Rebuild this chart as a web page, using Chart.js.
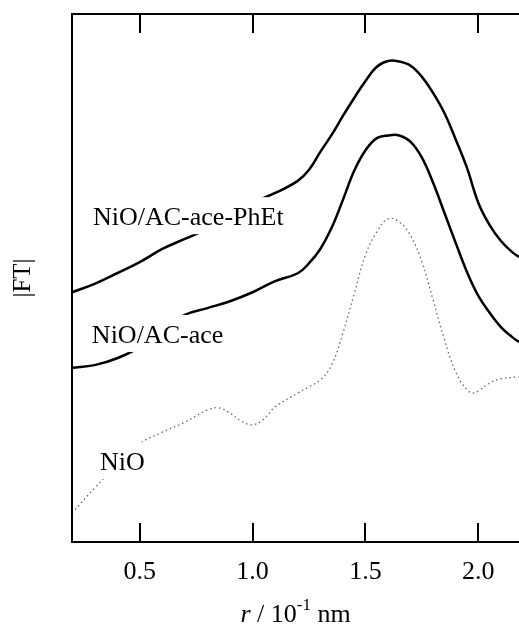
<!DOCTYPE html>
<html>
<head>
<meta charset="utf-8">
<script src="https://cdn.jsdelivr.net/npm/chart.js@4/dist/chart.umd.min.js"></script>
<style>
  html, body { margin: 0; padding: 0; background: #fff; }
  canvas { display: block; }
</style>
</head>
<body>
<canvas id="ftChart" width="519" height="629"></canvas>
<script>
// |FT| of the EXAFS spectra, r in 0.1 nm, magnitude in arbitrary units (offset curves)
const rGrid = [0.2, 0.3, 0.4, 0.5, 0.6, 0.7, 0.8, 0.9, 1.0, 1.1, 1.2,
  1.25, 1.3, 1.35, 1.4, 1.45, 1.5, 1.55, 1.6, 1.65, 1.7, 1.75, 1.8, 1.85,
  1.9, 1.95, 2.0, 2.05, 2.1, 2.15, 2.18];
const ftPhEt = [47.3, 48.9, 50.9, 53.0, 55.5, 57.4, 59.3, 61.7, 64.2, 66.1, 68.4,
  70.5, 73.9, 77.1, 80.7, 84.1, 87.3, 90.0, 91.1, 91.0, 90.2, 88.1, 85.0, 81.2,
  76.2, 70.8, 64.2, 60.0, 57.0, 54.9, 54.0];
const ftAce = [33.0, 33.5, 34.8, 36.9, 40.2, 43.0, 44.3, 45.6, 47.3, 49.4, 50.9,
  52.8, 55.5, 59.5, 64.8, 70.3, 74.2, 76.5, 77.0, 77.0, 75.8, 72.8, 68.0, 62.3,
  56.6, 51.1, 46.6, 43.4, 40.7, 38.8, 37.9];

const rNiO = [0.2, 0.3, 0.4, 0.5, 0.6, 0.7, 0.8, 0.85, 0.9, 0.95, 1.0, 1.05, 1.1,
  1.2, 1.25, 1.3, 1.35, 1.4, 1.45, 1.5, 1.55, 1.6, 1.65, 1.7, 1.75, 1.8, 1.85,
  1.9, 1.95, 1.98, 2.0, 2.05, 2.1, 2.18];
const ftNiO = [5.5, 10.2, 14.6, 18.6, 20.8, 22.7, 25.0, 25.4, 24.4, 22.9, 22.2, 23.3, 25.6,
  28.2, 29.4, 30.7, 33.5, 39.6, 47.0, 54.4, 58.7, 61.2, 60.6, 58.0, 53.0, 45.8, 38.3,
  32.2, 28.8, 28.2, 28.6, 30.1, 30.9, 31.3];

const rTicks = [0.5, 1.0, 1.5, 2.0];

// curve labels: [text, r, |FT|] of the text's left baseline
const curveLabels = [
  ["NiO/AC-ace-PhEt", 0.293, 60.0],
  ["NiO/AC-ace", 0.288, 37.7],
  ["NiO", 0.324, 13.6],
];

const serif = '"Liberation Serif", "Times New Roman", serif';

function pts(xs, ys) {
  return xs.map((v, i) => ({ x: v, y: ys[i] }));
}

// white-backed labels, frame with inward ticks, axis titles
const framePlugin = {
  id: "frame",
  afterDatasetsDraw(chart) {
    const { ctx, scales: { x, y } } = chart;
    ctx.save();
    ctx.font = "26px " + serif;
    ctx.textBaseline = "alphabetic";
    curveLabels.forEach(([txt, r, v]) => {
      const px = x.getPixelForValue(r);
      const py = y.getPixelForValue(v);
      const w = ctx.measureText(txt).width;
      ctx.fillStyle = "#fff";
      ctx.fillRect(px - 4, py - 28, w + 8, 37);
      ctx.fillStyle = "#000";
      ctx.fillText(txt, px, py);
    });
    ctx.restore();
  },
  afterDraw(chart) {
    const { ctx, chartArea: a, scales: { x } } = chart;
    ctx.save();
    ctx.strokeStyle = "#000";
    ctx.lineWidth = 2;
    ctx.beginPath();
    ctx.moveTo(a.right + 2, a.top);
    ctx.lineTo(a.left, a.top);
    ctx.lineTo(a.left, a.bottom);
    ctx.lineTo(a.right + 2, a.bottom);
    rTicks.forEach(v => {
      const px = Math.round(x.getPixelForValue(v));
      ctx.moveTo(px, a.top);
      ctx.lineTo(px, a.top + 19);
      ctx.moveTo(px, a.bottom);
      ctx.lineTo(px, a.bottom - 19);
    });
    ctx.stroke();

    // x title: r / 10^-1 nm
    ctx.fillStyle = "#000";
    ctx.textBaseline = "alphabetic";
    const parts = [
      ["italic 26px " + serif, "r", 0],
      ["26px " + serif, " / 10", 0],
      ["17px " + serif, "-1", -12],
      ["26px " + serif, " nm", 0],
    ];
    let total = 0;
    parts.forEach(p => { ctx.font = p[0]; total += ctx.measureText(p[1]).width; });
    let cx = (a.left + a.right) / 2 - total / 2;
    parts.forEach(p => {
      ctx.font = p[0];
      ctx.fillText(p[1], cx, 622 + p[2]);
      cx += ctx.measureText(p[1]).width;
    });

    // y title
    ctx.font = "25px " + serif;
    ctx.textAlign = "center";
    ctx.textBaseline = "middle";
    ctx.translate(23, (a.top + a.bottom) / 2);
    ctx.rotate(-Math.PI / 2);
    ctx.fillText("|FT|", 0, 0);
    ctx.restore();
  },
};

new Chart(document.getElementById("ftChart"), {
  type: "line",
  data: {
    datasets: [
      {
        label: "NiO/AC-ace-PhEt",
        data: pts(rGrid, ftPhEt),
        borderColor: "#000",
        borderWidth: 2.5,
      },
      {
        label: "NiO/AC-ace",
        data: pts(rGrid, ftAce),
        borderColor: "#000",
        borderWidth: 2.5,
      },
      {
        label: "NiO",
        data: pts(rNiO, ftNiO),
        borderColor: "#666",
        borderWidth: 1.3,
        borderDash: [1.5, 3],
      },
    ],
  },
  options: {
    responsive: false,
    animation: false,
    devicePixelRatio: 1,
    layout: { padding: { left: 72, top: 14, right: 0, bottom: 0 } },
    elements: {
      point: { radius: 0 },
      line: { tension: 0.4, fill: false },
    },
    plugins: {
      legend: { display: false },
      tooltip: { enabled: false },
    },
    scales: {
      x: {
        type: "linear",
        min: 0.2,
        max: 2.18,
        grid: { display: false },
        border: { display: false },
        afterBuildTicks: s => { s.ticks = rTicks.map(v => ({ value: v })); },
        afterFit: s => { s.height = 87; },
        ticks: {
          color: "#000",
          padding: 7,
          maxRotation: 0,
          font: { family: serif, size: 26 },
          callback: v => v.toFixed(1),
        },
      },
      y: {
        display: false,
        min: 0,
        max: 100,
      },
    },
  },
  plugins: [framePlugin],
});
</script>
</body>
</html>
